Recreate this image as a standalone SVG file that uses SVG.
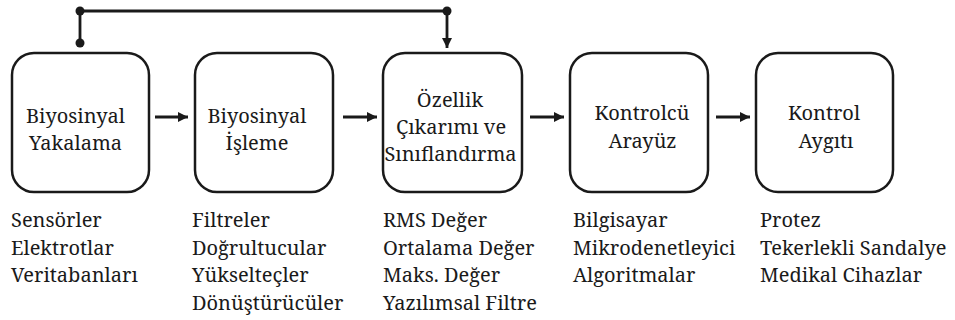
<svg xmlns="http://www.w3.org/2000/svg" width="955" height="320" viewBox="0 0 955 320">
  <style>
    .box { fill: #ffffff; stroke: #1a1a1a; stroke-width: 2.5; }
    .wire { fill: none; stroke: #1a1a1a; stroke-width: 2.8; }
    .dot { fill: #1a1a1a; }
    text { font-family: "Noto Serif", "DejaVu Serif", serif; font-size: 20px; fill: #1a1a1a; }
    .mid { text-anchor: middle; }
  </style>
  <defs>
    <marker id="head" viewBox="0 0 10 10" refX="10" refY="5" markerWidth="10" markerHeight="10" markerUnits="userSpaceOnUse" orient="auto">
      <path d="M0,0 L10,5 L0,10 Z" fill="#1a1a1a"/>
    </marker>
  </defs>

  <!-- connectors: feedback bus on top, forward arrows between stages -->
  <g id="connectors">
    <path class="wire" d="M80,43 V11 H447 V48" marker-end="url(#head)"/>
    <circle class="dot" cx="80" cy="11" r="4.5"/>
    <circle class="dot" cx="80" cy="43" r="4.5"/>
    <circle class="dot" cx="447" cy="11" r="4.5"/>
    <line class="wire" x1="155" y1="117" x2="188" y2="117" marker-end="url(#head)"/>
    <line class="wire" x1="343" y1="117" x2="377" y2="117" marker-end="url(#head)"/>
    <line class="wire" x1="530" y1="117" x2="564" y2="117" marker-end="url(#head)"/>
    <line class="wire" x1="716" y1="117" x2="750" y2="117" marker-end="url(#head)"/>
  </g>

  <!-- pipeline stages -->
  <g id="acquisition">
    <rect class="box" x="12" y="53" width="137" height="139" rx="22"/>
    <text class="mid" x="75.5" y="122.5">Biyosinyal</text>
    <text class="mid" x="75.5" y="150">Yakalama</text>
  </g>
  <g id="processing">
    <rect class="box" x="195" y="53" width="138" height="139" rx="22"/>
    <text class="mid" x="257" y="122.5">Biyosinyal</text>
    <text class="mid" x="257" y="150">İşleme</text>
  </g>
  <g id="features">
    <rect class="box" x="383" y="53" width="139" height="139" rx="22"/>
    <text class="mid" x="450" y="106.5">Özellik</text>
    <text class="mid" x="451" y="133.5">Çıkarımı ve</text>
    <text class="mid" x="450.5" y="161">Sınıflandırma</text>
  </g>
  <g id="interface">
    <rect class="box" x="570" y="53" width="138" height="139" rx="22"/>
    <text class="mid" x="642" y="120">Kontrolcü</text>
    <text class="mid" x="642.5" y="147.5">Arayüz</text>
  </g>
  <g id="device">
    <rect class="box" x="756" y="53" width="137" height="139" rx="22"/>
    <text class="mid" x="824" y="120">Kontrol</text>
    <text class="mid" x="826" y="147.5">Aygıtı</text>
  </g>

  <!-- component lists under each stage -->
  <g id="list-acquisition">
    <text x="11" y="227">Sensörler</text>
    <text x="11" y="254.5">Elektrotlar</text>
    <text x="11" y="282">Veritabanları</text>
  </g>
  <g id="list-processing">
    <text x="192" y="227">Filtreler</text>
    <text x="192" y="254.5">Doğrultucular</text>
    <text x="192" y="282">Yükselteçler</text>
    <text x="192" y="309.5">Dönüştürücüler</text>
  </g>
  <g id="list-features">
    <text x="383" y="227">RMS Değer</text>
    <text x="383" y="254.5">Ortalama Değer</text>
    <text x="383" y="282">Maks. Değer</text>
    <text x="383" y="309.5">Yazılımsal Filtre</text>
  </g>
  <g id="list-interface">
    <text x="573" y="227">Bilgisayar</text>
    <text x="573" y="254.5">Mikrodenetleyici</text>
    <text x="573" y="282">Algoritmalar</text>
  </g>
  <g id="list-device">
    <text x="760" y="227">Protez</text>
    <text x="760" y="254.5">Tekerlekli Sandalye</text>
    <text x="760" y="282">Medikal Cihazlar</text>
  </g>
</svg>
